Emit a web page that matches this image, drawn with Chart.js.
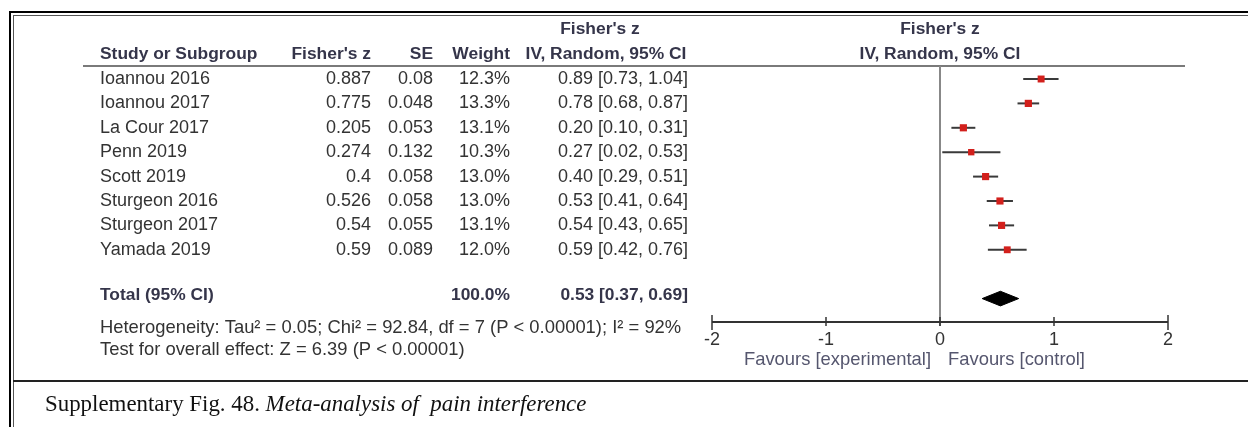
<!DOCTYPE html>
<html>
<head>
<meta charset="utf-8">
<title>Meta-analysis of pain interference</title>
<script src="https://cdn.jsdelivr.net/npm/chart.js@4"></script>
<style>
    html, body { margin: 0; padding: 0; background: #fff; }
    #wrap { width: 1248px; height: 427px; position: relative; }
</style>
</head>
<body>
<div id="wrap"><canvas id="forest" width="1248" height="427"></canvas></div>
<script>
// Study data
const studies = ['Ioannou 2016', 'Ioannou 2017', 'La Cour 2017', 'Penn 2019', 'Scott 2019', 'Sturgeon 2016', 'Sturgeon 2017', 'Yamada 2019'];
const fisherZ = [0.887, 0.775, 0.205, 0.274, 0.4, 0.526, 0.54, 0.59];
const se = [0.08, 0.048, 0.053, 0.132, 0.058, 0.058, 0.055, 0.089];
const weights = [12.3, 13.3, 13.1, 10.3, 13.0, 13.0, 13.1, 12.0];
const estimate = [0.89, 0.78, 0.20, 0.27, 0.40, 0.53, 0.54, 0.59];
const ciLow = [0.73, 0.68, 0.10, 0.02, 0.29, 0.41, 0.43, 0.42];
const ciHigh = [1.04, 0.87, 0.31, 0.53, 0.51, 0.64, 0.65, 0.76];

// Pooled result
const totalWeight = 100.0;
const totalEst = 0.53;
const totalLow = 0.37;
const totalHigh = 0.69;

const xTicks = [-2, -1, 0, 1, 2];
const heterogeneityText = 'Heterogeneity: Tau\u00b2 = 0.05; Chi\u00b2 = 92.84, df = 7 (P < 0.00001); I\u00b2 = 92%';
const overallText = 'Test for overall effect: Z = 6.39 (P < 0.00001)';
const favourLeft = 'Favours [experimental]';
const favourRight = 'Favours [control]';
const captionMain = 'Supplementary Fig. 48. ';
const captionItalic = 'Meta-analysis of  pain interference';

const totalRow = studies.length + 1;
const fmt = v => v.toFixed(2);
const ciText = (e, lo, hi) => `${fmt(e)} [${fmt(lo)}, ${fmt(hi)}]`;

const SANS = '"Liberation Sans", Arial, sans-serif';
const SERIF = '"Liberation Serif", "Times New Roman", serif';
const TEXT = '#333333';
const HEAD = '#35354a';

// CI whiskers, one dataset per study
const ciSets = studies.map((s, i) => ({
    type: 'line',
    data: [{ x: ciLow[i], y: i }, { x: ciHigh[i], y: i }],
    borderColor: '#3a3a3a',
    borderWidth: 2,
    pointRadius: 0,
    order: 2
}));

const pointSet = {
    type: 'line',
    showLine: false,
    data: fisherZ.map((z, i) => ({ x: z, y: i })),
    pointStyle: 'rect',
    pointRadius: weights.map(w => Math.sqrt(w) * 1.4),
    backgroundColor: '#d2201c',
    borderWidth: 0,
    order: 1
};

const diamondSet = {
    type: 'line',
    data: [
        { x: totalLow, y: totalRow },
        { x: totalEst, y: totalRow - 0.3 },
        { x: totalHigh, y: totalRow },
        { x: totalEst, y: totalRow + 0.3 },
        { x: totalLow, y: totalRow }
    ],
    borderColor: '#000',
    backgroundColor: '#000',
    borderWidth: 1,
    fill: 'shape',
    tension: 0,
    pointRadius: 0,
    order: 1
};

function txt(ctx, s, x, y, align, font, color) {
    ctx.font = font;
    ctx.fillStyle = color;
    ctx.textAlign = align;
    ctx.textBaseline = 'middle';
    ctx.fillText(s, x, y);
}

const forestPlugin = {
    id: 'forestPlugin',
    beforeDatasetsDraw(chart) {
        const ctx = chart.ctx;
        const area = chart.chartArea;
        const xs = chart.scales.x;
        ctx.save();
        // frame lines
        ctx.fillStyle = '#000';
        ctx.fillRect(9, 11, 1248, 2);
        ctx.fillRect(9, 11, 2, 427);
        ctx.fillStyle = '#555';
        ctx.fillRect(13, 15, 1248, 1);
        ctx.fillRect(13, 15, 1, 427);
        ctx.fillStyle = '#222';
        ctx.fillRect(13, 380, 1248, 2);
        // header rule
        ctx.fillStyle = '#7a7a7a';
        ctx.fillRect(83, area.top - 1, 1102, 2);
        // line of no effect
        const x0 = Math.round(xs.getPixelForValue(0));
        ctx.fillStyle = '#888';
        ctx.fillRect(x0 - 1, area.top, 2, area.bottom - area.top + 4);
        ctx.restore();
    },
    afterDatasetsDraw(chart) {
        const ctx = chart.ctx;
        const area = chart.chartArea;
        const xs = chart.scales.x;
        const ys = chart.scales.y;
        ctx.save();

        // x axis with ticks crossing the line
        const ay = area.bottom;
        ctx.strokeStyle = '#333';
        ctx.lineWidth = 2;
        ctx.beginPath();
        ctx.moveTo(xs.getPixelForValue(xTicks[0]), ay);
        ctx.lineTo(xs.getPixelForValue(xTicks[xTicks.length - 1]), ay);
        ctx.stroke();
        ctx.lineWidth = 1.5;
        xTicks.forEach((t, k) => {
            const px = xs.getPixelForValue(t);
            const end = k === 0 || k === xTicks.length - 1;
            ctx.beginPath();
            ctx.moveTo(px, ay - (end ? 7 : 5));
            ctx.lineTo(px, ay + (end ? 8 : 4));
            ctx.stroke();
            txt(ctx, String(t), px, ay + 18, 'center', `18px ${SANS}`, TEXT);
        });
        const x0 = xs.getPixelForValue(0);
        txt(ctx, favourLeft, x0 - 9, ay + 38, 'right', `18.4px ${SANS}`, '#55566e');
        txt(ctx, favourRight, x0 + 8, ay + 38, 'left', `18.4px ${SANS}`, '#55566e');

        // headers
        const h1 = 29, h2 = 54;
        const bold = `bold 17.4px ${SANS}`;
        txt(ctx, "Fisher's z", 600, h1, 'center', bold, HEAD);
        txt(ctx, 'Study or Subgroup', 100, h2, 'left', bold, HEAD);
        txt(ctx, "Fisher's z", 371, h2, 'right', bold, HEAD);
        txt(ctx, 'SE', 433, h2, 'right', bold, HEAD);
        txt(ctx, 'Weight', 510, h2, 'right', bold, HEAD);
        txt(ctx, 'IV, Random, 95% CI', 606, h2, 'center', bold, HEAD);
        txt(ctx, "Fisher's z", x0, h1, 'center', bold, HEAD);
        txt(ctx, 'IV, Random, 95% CI', x0, h2, 'center', bold, HEAD);

        // study rows
        const body = `18px ${SANS}`;
        studies.forEach((s, i) => {
            const y = ys.getPixelForValue(i);
            txt(ctx, s, 100, y, 'left', body, TEXT);
            txt(ctx, String(fisherZ[i]), 371, y, 'right', body, TEXT);
            txt(ctx, String(se[i]), 433, y, 'right', body, TEXT);
            txt(ctx, weights[i].toFixed(1) + '%', 510, y, 'right', body, TEXT);
            txt(ctx, ciText(estimate[i], ciLow[i], ciHigh[i]), 688, y, 'right', body, TEXT);
        });

        // total row
        const ty = ys.getPixelForValue(totalRow) - 3;
        txt(ctx, 'Total (95% CI)', 100, ty, 'left', bold, HEAD);
        txt(ctx, totalWeight.toFixed(1) + '%', 510, ty, 'right', bold, HEAD);
        txt(ctx, ciText(totalEst, totalLow, totalHigh), 688, ty, 'right', bold, HEAD);

        txt(ctx, heterogeneityText, 100, 328, 'left', `18.4px ${SANS}`, TEXT);
        txt(ctx, overallText, 100, 350, 'left', `18.4px ${SANS}`, TEXT);

        // caption
        const capFont = `22.9px ${SERIF}`;
        ctx.font = capFont;
        const w = ctx.measureText(captionMain).width;
        txt(ctx, captionMain, 45, 405, 'left', capFont, '#111');
        txt(ctx, captionItalic, 45 + w, 405, 'left', `italic ${capFont}`, '#111');

        ctx.restore();
    }
};

new Chart(document.getElementById('forest'), {
    type: 'line',
    data: { datasets: [...ciSets, pointSet, diamondSet] },
    options: {
        responsive: false,
        animation: false,
        events: [],
        layout: { padding: { left: 712, right: 80, top: 66, bottom: 105 } },
        plugins: { legend: { display: false }, tooltip: { enabled: false } },
        scales: {
            x: { type: 'linear', min: -2, max: 2, display: false },
            y: { type: 'linear', min: -0.533, max: 9.96, reverse: true, display: false }
        }
    },
    plugins: [forestPlugin]
});
</script>
</body>
</html>
